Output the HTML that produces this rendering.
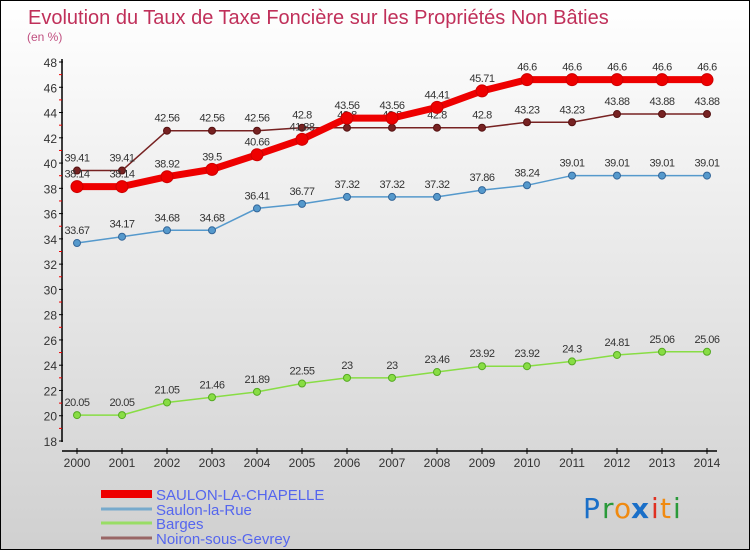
<!DOCTYPE html>
<html><head><meta charset="utf-8"><style>
html,body{margin:0;padding:0}
body{width:750px;height:550px;overflow:hidden;font-family:"Liberation Sans","DejaVu Sans",sans-serif}
#wrap{position:absolute;left:0;top:0;width:748px;height:548px;border:1px solid #000;background:linear-gradient(#ffffff,#d0d0d0)}
</style></head><body>
<div id="wrap">
<svg id="chart" width="748" height="548" xmlns="http://www.w3.org/2000/svg">
<text x="27" y="23" font-size="20" fill="#c0305a">Evolution du Taux de Taxe Foncière sur les Propriétés Non Bâties</text>
<text x="26" y="40" font-size="12" fill="#c05080">(en %)</text>
<g id="axes"></g><g id="series"></g><g id="legend"></g>
<g font-size="28" font-family="'DejaVu Sans',sans-serif">
<text x="582" y="517" fill="#1a6fc8">P</text><text x="601" y="517" fill="#2a9a3a">r</text><text x="613" y="517" fill="#f08a10">o</text><text x="630" y="517" fill="#1a6fc8" font-weight="bold">x</text><text x="650" y="517" fill="#e03020">i</text><text x="659" y="517" fill="#f08a10">t</text><text x="672" y="517" fill="#2a9a3a">i</text>
</g>
</svg></div>
<script>
const years=[2000,2001,2002,2003,2004,2005,2006,2007,2008,2009,2010,2011,2012,2013,2014];
const yTicks=[18,20,22,24,26,28,30,32,34,36,38,40,42,44,46,48];
const saulonChapelle=[38.14,38.14,38.92,39.5,40.66,41.88,43.56,43.56,44.41,45.71,46.6,46.6,46.6,46.6,46.6];
const saulonRue=[33.67,34.17,34.68,34.68,36.41,36.77,37.32,37.32,37.32,37.86,38.24,39.01,39.01,39.01,39.01];
const barges=[20.05,20.05,21.05,21.46,21.89,22.55,23,23,23.46,23.92,23.92,24.3,24.81,25.06,25.06];
const noiron=[39.41,39.41,42.56,42.56,42.56,42.8,42.8,42.8,42.8,42.8,43.23,43.23,43.88,43.88,43.88];
const seriesNames=["SAULON-LA-CHAPELLE","Saulon-la-Rue","Barges","Noiron-sous-Gevrey"];
const NS="http://www.w3.org/2000/svg";
const xs=i=>76+i*45;
const ys=v=>440-(v-18)*(379/30);
function mk(tag,attrs,parent){const e=document.createElementNS(NS,tag);for(const k in attrs)e.setAttribute(k,attrs[k]);parent.appendChild(e);return e;}
const axes=document.getElementById('axes');
let e=mk('line',{x1:61,y1:58,x2:61,y2:441,stroke:'#000','stroke-width':1.5},axes);


e=mk('line',{x1:61,y1:450,x2:716,y2:450,stroke:'#000','stroke-width':1.5},axes);


yTicks.forEach((t,i)=>{
  const y=ys(t);
  mk('line',{x1:58,y1:y,x2:62,y2:y,stroke:'#000'},axes);
  if(i<yTicks.length-1){mk('line',{x1:58,y1:ys(t+1),x2:61,y2:ys(t+1),stroke:'#e00'},axes);}
  const tx=mk('text',{x:56,y:y+5,'font-size':12,'text-anchor':'end',fill:'#333'},axes);
  tx.textContent=t;
  
  
});
years.forEach((yr,i)=>{
  const x=xs(i);
  mk('line',{x1:x,y1:447,x2:x,y2:453,stroke:'#000'},axes);
  const tx=mk('text',{x:x,y:466,'font-size':12,'text-anchor':'middle',fill:'#333'},axes);
  tx.textContent=yr;
  
  
});
const sg=document.getElementById('series');
function drawSeries(vals,color,dark,lw,r,name,labelOffset){
  const g=mk('g',{},sg);
  
  
  const pts=vals.map((v,i)=>xs(i)+','+ys(v)).join(' ');
  mk('polyline',{points:pts,fill:'none',stroke:color,'stroke-width':lw,'stroke-linejoin':'round'},g);
  vals.forEach((v,i)=>{
    const c=mk('circle',{cx:xs(i),cy:ys(v),r:r,fill:color,stroke:dark,'stroke-width':1},g);
    
    
    const t=mk('text',{x:xs(i),y:ys(v)+labelOffset,'font-size':11,'text-anchor':'middle',fill:'#333','letter-spacing':'-0.5'},g);
    t.textContent=v;
    
    
  });
}
drawSeries(barges,'#88dd44','#55aa22',1.5,3.5,'barges',-9);
drawSeries(saulonRue,'#5599cc','#336699',1.5,3.5,'saulon-la-rue',-9);
drawSeries(noiron,'#772222','#551111',1.5,3.5,'noiron-sous-gevrey',-9);
drawSeries(saulonChapelle,'#ee0000','#cc0000',7,6,'saulon-la-chapelle',-9);
const lg=document.getElementById('legend');
const lc=['#ee0000','#77aacc','#99dd66','#996666'],lw=[8,3,3,3],ly=[493,508,522,537];
seriesNames.forEach((n,i)=>{
  const g=mk('g',{},lg);
  
  
  mk('line',{x1:100,y1:ly[i],x2:151,y2:ly[i],stroke:lc[i],'stroke-width':lw[i]},g);
  const t=mk('text',{x:155,y:ly[i]+6,'font-size':15,fill:'#5566ee'},g);
  t.textContent=n;
});
</script>
</body></html>
